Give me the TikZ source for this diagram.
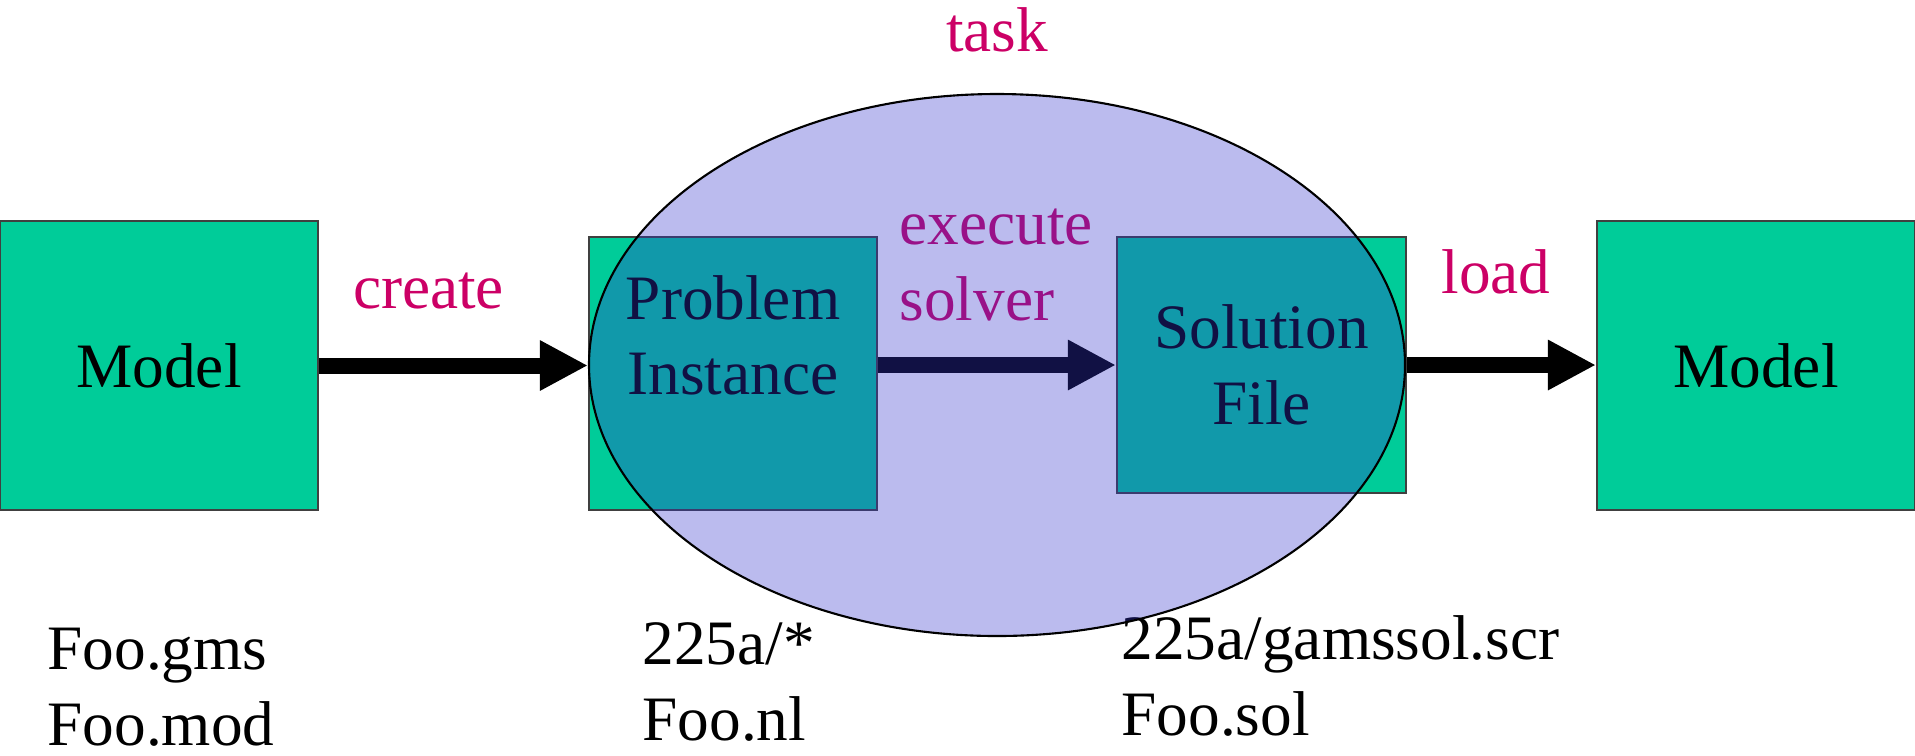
\documentclass[tikz,border=0pt]{standalone}
\usepackage{fontspec}
\setmainfont{Liberation Serif}
\usetikzlibrary{arrows.meta, positioning, shapes.geometric}
\definecolor{boxgreen}{HTML}{00CC99}
\definecolor{actpink}{HTML}{CC0066}
\definecolor{taskblue}{HTML}{3333CC}
\tikzset{
  txt/.style={
    font=\fontsize{18pt}{21.6pt}\selectfont,
    inner sep=0pt,
  },
  box/.style={
    txt,
    draw=black!75,
    line width=0.6pt,
    fill=boxgreen,
    align=center,
  },
  actlabel/.style={
    txt,
    text=actpink
  },
  bigarrow/.style={
    -{Triangle[length=0.48cm,width=0.47cm]},
    line width=0.16cm
  }
}
\begin{document}
\begin{tikzpicture}
\useasboundingbox (0,0) rectangle (19.15,7.55);

% --- Boites ---
\node[box, minimum width=3.18cm, minimum height=2.89cm] (model1) at (1.59,3.895) {Model};
\node[box, minimum width=2.88cm, minimum height=2.73cm] (prob) at (7.33,3.815) {};
\node[box, minimum width=2.89cm, minimum height=2.56cm] (sol) at (12.615,3.90) {Solution\\File};
\node[box, minimum width=3.18cm, minimum height=2.89cm] (model2) at (17.56,3.895) {Model};
\node[txt, anchor=base, align=center] (probtxt) at ([yshift=-1.59cm]prob.north) {Problem\\Instance};

% --- Fleches ---
\draw[bigarrow] (model1.east) -- (model1.east -| prob.west);
\draw[bigarrow] (prob.east |- sol.west) -- (sol.west);
\draw[bigarrow] (sol.east) -- (sol.east -| model2.west);

% --- Etiquettes des fleches ---
\node[actlabel, anchor=base] (create) at (4.285,4.47) {create};
\node[actlabel, anchor=base west, align=left] (exec) at (8.99,4.35) {execute\\solver};
\node[actlabel, anchor=base] (load) at (14.96,4.62) {load};

% --- Fichiers en dessous ---
\node[txt, anchor=base west, align=left] (files1) at (0.47,0.10) {Foo.gms\\Foo.mod};
\node[txt, anchor=base west, align=left] (files2) at (6.42,0.15) {225a/*\\Foo.nl};
\node[txt, anchor=base west, align=left] (files3) at (11.21,0.20) {225a/gamssol.scr\\Foo.sol};

% --- Ellipse de la tache ---
\node[ellipse, draw=black, line width=0.6pt, fill=taskblue, fill opacity=0.333,
      minimum width=8.16cm, minimum height=5.42cm, inner sep=0pt] (task) at (9.97,3.90) {};
\node[actlabel, anchor=base] (tasklbl) at ([yshift=0.41cm]task.north) {task};

\end{tikzpicture}
\end{document}
